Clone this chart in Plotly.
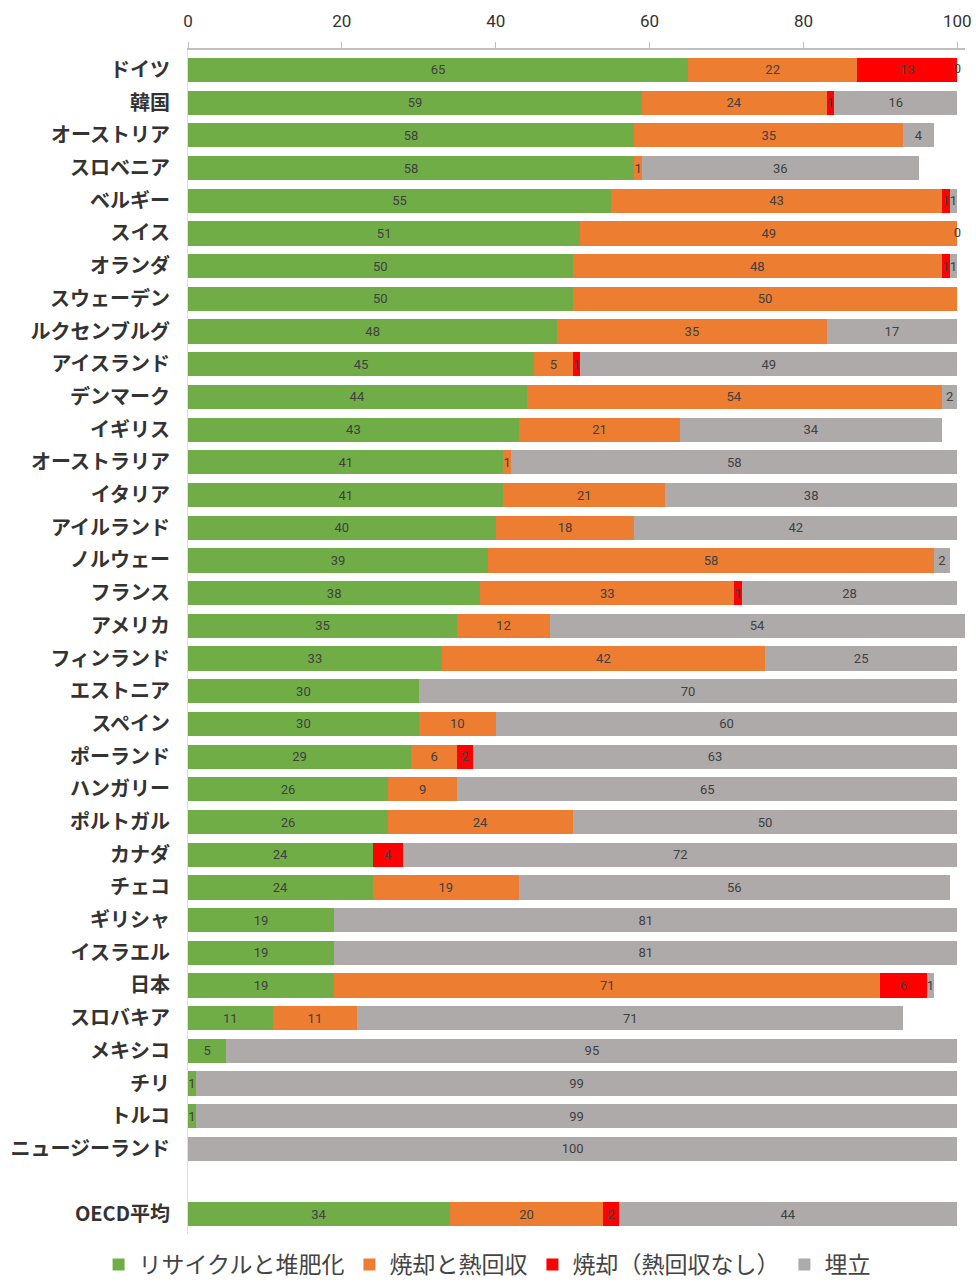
import plotly.graph_objects as go

countries = ["ドイツ", "韓国", "オーストリア", "スロベニア", "ベルギー", "スイス", "オランダ",
             "スウェーデン", "ルクセンブルグ", "アイスランド", "デンマーク", "イギリス",
             "オーストラリア", "イタリア", "アイルランド", "ノルウェー", "フランス", "アメリカ",
             "フィンランド", "エストニア", "スペイン", "ポーランド", "ハンガリー", "ポルトガル",
             "カナダ", "チェコ", "ギリシャ", "イスラエル", "日本", "スロバキア", "メキシコ",
             "チリ", "トルコ", "ニュージーランド", "OECD平均"]

recycle = [65, 59, 58, 58, 55, 51, 50, 50, 48, 45, 44, 43, 41, 41, 40, 39, 38, 35, 33, 30,
           30, 29, 26, 26, 24, 24, 19, 19, 19, 11, 5, 1, 1, None, 34]
energy = [22, 24, 35, 1, 43, 49, 48, 50, 35, 5, 54, 21, 1, 21, 18, 58, 33, 12, 42, None,
          10, 6, 9, 24, None, 19, None, None, 71, 11, None, None, None, None, 20]
incin = [13, 1, None, None, 1, None, 1, None, None, 1, None, None, None, None, None, None, 1,
         None, None, None, None, 2, None, None, 4, None, None, None, 6, None, None, None,
         None, None, 2]
landfill = [0, 16, 4, 36, 1, 0, 1, None, 17, 49, 2, 34, 58, 38, 42, 2, 28, 54, 25, 70,
            60, 63, 65, 50, 72, 56, 81, 81, 1, 71, 95, 99, 99, 100, 44]

series_names = ["リサイクルと堆肥化", "焼却と熱回収", "焼却（熱回収なし）", "埋立"]
series_colors = ["#70AD47", "#ED7D31", "#FF0000", "#AEAAAA"]
x_ticks = [0, 20, 40, 60, 80, 100]

# y positions: one blank row between the countries and the OECD average
ypos = list(range(len(countries) - 1)) + [len(countries)]

label_font = dict(family="Roboto, sans-serif", size=13, color="#404040")

fig = go.Figure()
all_series = [recycle, energy, incin, landfill]
for name, vals, col in zip(series_names, all_series, series_colors):
    text = ["" if v is None else str(v) for v in vals]
    fig.add_trace(go.Bar(
        y=ypos, x=vals, name=name, orientation="h",
        marker=dict(color=col, line=dict(width=0)),
        width=0.74,
        text=text, textposition="inside", insidetextanchor="middle",
        constraintext="none",
        textfont=label_font,
        cliponaxis=False,
    ))

# labels for zero-size landfill segments (drawn at the end of the stack)
zx, zy = [], []
for i, v in enumerate(landfill):
    if v == 0:
        zx.append(sum((s[i] or 0) for s in all_series))
        zy.append(ypos[i])
fig.add_trace(go.Scatter(x=zx, y=zy, mode="text", text=["0"] * len(zx),
                         textposition="middle center", textfont=label_font,
                         showlegend=False, hoverinfo="skip", cliponaxis=False))

fig.update_layout(
    barmode="stack",
    width=976, height=1285,
    margin=dict(l=188, r=11, t=50, b=51),
    paper_bgcolor="white", plot_bgcolor="white",
    font=dict(family="Noto Sans CJK JP, sans-serif", color="#333333"),
    showlegend=True,
    legend=dict(orientation="h", x=0.101, xanchor="left", xref="container",
                y=0.016, yanchor="middle", yref="container",
                font=dict(size=23, color="#444444", family="Noto Sans CJK JP"),
                traceorder="normal", itemwidth=30, tracegroupgap=0),
    xaxis=dict(side="top", range=[0, 101], tickvals=x_ticks, ticktext=[str(t) for t in x_ticks],
               showgrid=False, zeroline=False, showline=True, linecolor="#BFBFBF", linewidth=1.5,
               ticks="outside", ticklen=6, tickcolor="#BFBFBF", automargin=False,
               tickfont=dict(size=17, color="#333333", family="Roboto, sans-serif"),
               ticklabelstandoff=8, fixedrange=True),
    yaxis=dict(range=[35.6, -0.61], tickvals=ypos, ticktext=["<b>" + c + "</b>" for c in countries],
               showgrid=False, zeroline=False, showline=True, linecolor="#E0E0E0", linewidth=1,
               ticks="", tickfont=dict(size=20, color="#333333", family="Noto Sans CJK JP"),
               ticklabelstandoff=13, automargin=False, fixedrange=True),
)

fig.write_html("out.html", config={"displayModeBar": False},
               post_script="document.body.style.margin='0';document.body.style.overflow='hidden';")
